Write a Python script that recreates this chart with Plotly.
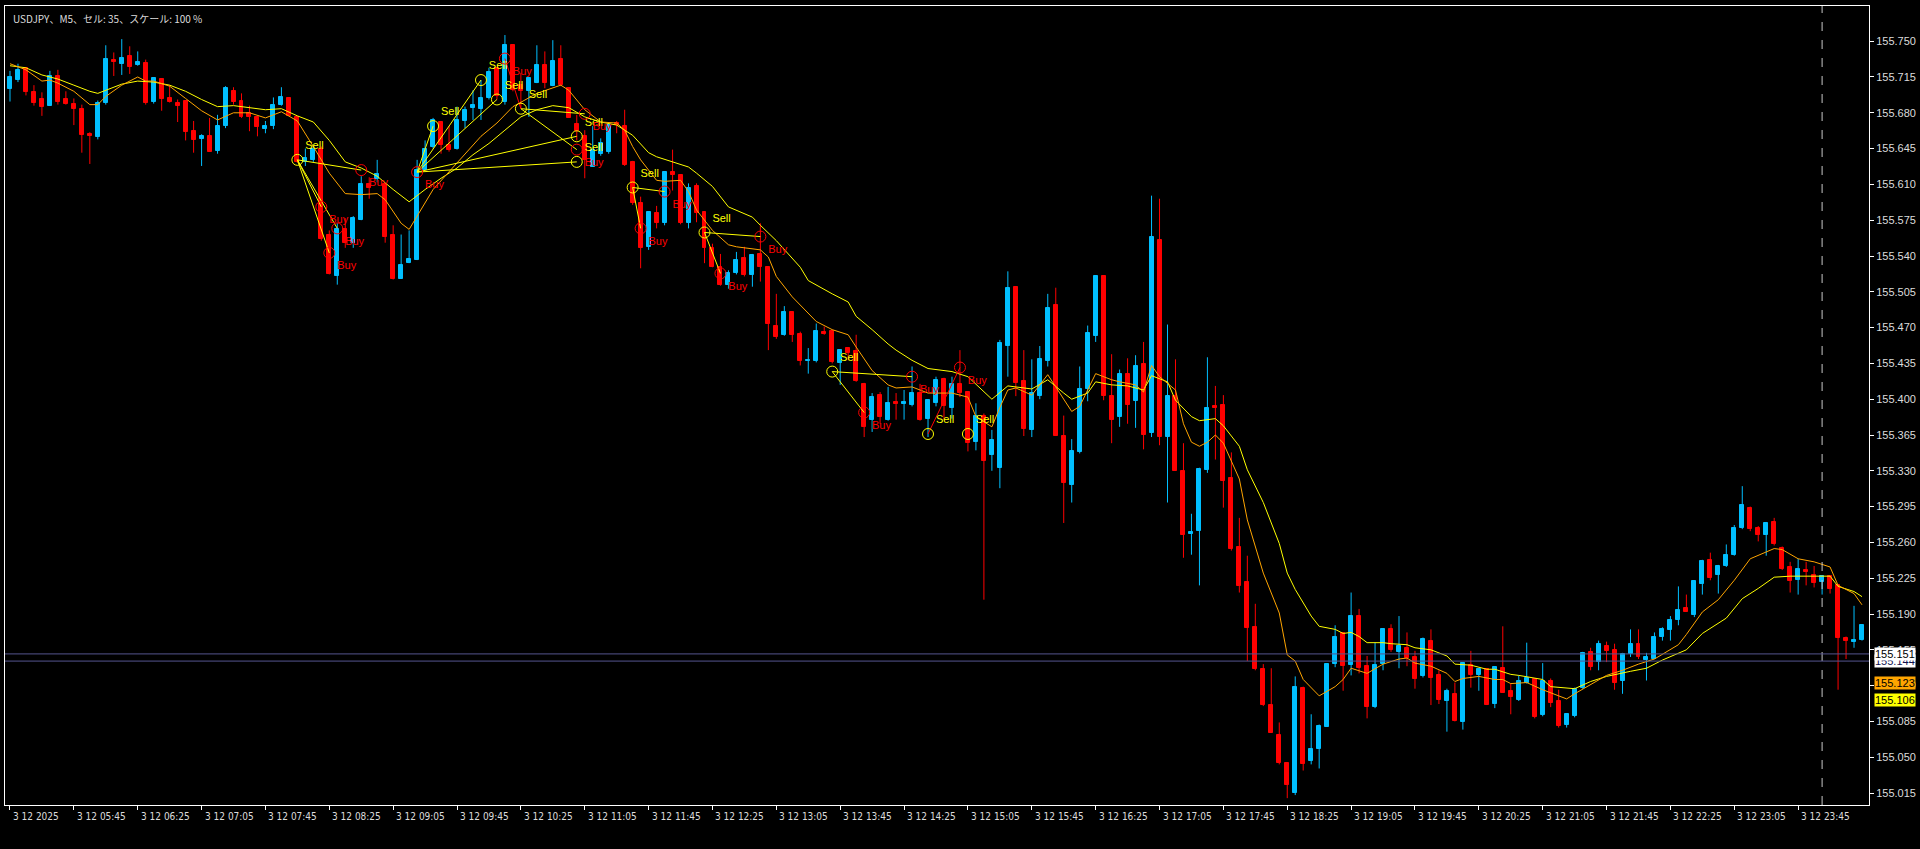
import plotly.graph_objects as go

# ---------------- data ----------------
candle_idx = list(range(233))  # M5 bars from 3.12 05:05 to 3.13 00:25

opens = [
    155.703, 155.712, 155.724, 155.700, 155.693, 155.687, 155.716, 155.693, 155.689, 155.684,
    155.659, 155.656, 155.690, 155.732, 155.728, 155.736, 155.727, 155.729, 155.691, 155.713,
    155.694, 155.690, 155.692, 155.662, 155.654, 155.657, 155.643, 155.667, 155.701, 155.692,
    155.680, 155.676, 155.664, 155.667, 155.688, 155.694, 155.676, 155.632, 155.634, 155.645,
    155.561, 155.520, 155.566, 155.553, 155.575, 155.610, 155.615, 155.610, 155.561, 155.518,
    155.533, 155.536, 155.624, 155.647, 155.671, 155.649, 155.645, 155.672, 155.685, 155.684,
    155.694, 155.724, 155.691, 155.746, 155.707, 155.701, 155.709, 155.727, 155.706, 155.733,
    155.704, 155.669, 155.657, 155.627, 155.640, 155.642, 155.670, 155.667, 155.632, 155.592,
    155.549, 155.582, 155.572, 155.622, 155.619, 155.572, 155.608, 155.583, 155.548, 155.529,
    155.512, 155.523, 155.538, 155.521, 155.542, 155.529, 155.472, 155.463, 155.485, 155.464,
    155.437, 155.437, 155.466, 155.467, 155.435, 155.450, 155.447, 155.415, 155.380, 155.404,
    155.380, 155.397, 155.395, 155.394, 155.406, 155.381, 155.396, 155.420, 155.391, 155.415,
    155.407, 155.358, 155.384, 155.345, 155.333, 155.452, 155.510, 155.418, 155.370, 155.403,
    155.437, 155.492, 155.364, 155.316, 155.348, 155.410, 155.462, 155.520, 155.403, 155.383,
    155.425, 155.398, 155.434, 155.367, 155.556, 155.363, 155.403, 155.330, 155.268, 155.271,
    155.331, 155.393, 155.394, 155.323, 155.256, 155.221, 155.177, 155.136, 155.101, 155.072,
    155.044, 155.015, 155.118, 155.046, 155.058, 155.080, 155.141, 155.171, 155.140, 155.188,
    155.139, 155.099, 155.141, 155.175, 155.153, 155.157, 155.148, 155.129, 155.164, 155.130,
    155.105, 155.112, 155.084, 155.140, 155.130, 155.136, 155.102, 155.137, 155.115, 155.106,
    155.123, 155.126, 155.091, 155.125, 155.105, 155.082, 155.090, 155.118, 155.153, 155.143,
    155.159, 155.155, 155.125, 155.151, 155.161, 155.145, 155.146, 155.168, 155.174, 155.184,
    155.196, 155.189, 155.219, 155.243, 155.228, 155.237, 155.248, 155.274, 155.294, 155.274,
    155.267, 155.280, 155.255, 155.236, 155.223, 155.233, 155.228, 155.221, 155.227, 155.218,
    155.167, 155.163, 155.165,
]

highs = [
    155.721, 155.728, 155.724, 155.707, 155.700, 155.721, 155.722, 155.701, 155.694, 155.688,
    155.661, 155.692, 155.746, 155.739, 155.752, 155.745, 155.740, 155.732, 155.714, 155.713,
    155.707, 155.693, 155.692, 155.672, 155.659, 155.675, 155.678, 155.706, 155.705, 155.699,
    155.687, 155.676, 155.672, 155.695, 155.705, 155.694, 155.677, 155.645, 155.649, 155.647,
    155.565, 155.572, 155.577, 155.579, 155.618, 155.617, 155.634, 155.611, 155.570, 155.561,
    155.565, 155.634, 155.653, 155.675, 155.672, 155.667, 155.686, 155.686, 155.702, 155.712,
    155.724, 155.724, 155.756, 155.746, 155.719, 155.715, 155.746, 155.740, 155.751, 155.746,
    155.704, 155.678, 155.663, 155.667, 155.655, 155.669, 155.672, 155.683, 155.633, 155.598,
    155.584, 155.589, 155.623, 155.644, 155.620, 155.611, 155.611, 155.584, 155.552, 155.542,
    155.526, 155.544, 155.549, 155.542, 155.572, 155.530, 155.503, 155.491, 155.486, 155.466,
    155.450, 155.474, 155.471, 155.468, 155.449, 155.451, 155.463, 155.416, 155.406, 155.407,
    155.412, 155.406, 155.409, 155.432, 155.415, 155.400, 155.422, 155.421, 155.422, 155.448,
    155.408, 155.396, 155.386, 155.370, 155.458, 155.525, 155.510, 155.448, 155.439, 155.452,
    155.503, 155.509, 155.384, 155.361, 155.432, 155.472, 155.521, 155.521, 155.444, 155.429,
    155.440, 155.443, 155.456, 155.599, 155.596, 155.473, 155.439, 155.357, 155.288, 155.333,
    155.441, 155.413, 155.404, 155.348, 155.284, 155.247, 155.200, 155.141, 155.137, 155.084,
    155.045, 155.129, 155.119, 155.092, 155.082, 155.142, 155.179, 155.172, 155.211, 155.195,
    155.149, 155.162, 155.176, 155.180, 155.188, 155.172, 155.154, 155.167, 155.175, 155.135,
    155.117, 155.123, 155.142, 155.154, 155.137, 155.137, 155.139, 155.178, 155.122, 155.130,
    155.162, 155.127, 155.142, 155.127, 155.116, 155.093, 155.118, 155.153, 155.157, 155.164,
    155.163, 155.161, 155.152, 155.175, 155.175, 155.152, 155.172, 155.177, 155.188, 155.217,
    155.209, 155.223, 155.243, 155.250, 155.238, 155.258, 155.277, 155.315, 155.295, 155.276,
    155.280, 155.284, 155.256, 155.241, 155.244, 155.241, 155.237, 155.227, 155.228, 155.219,
    155.168, 155.198, 155.179,
]

lows = [
    155.691, 155.710, 155.697, 155.687, 155.677, 155.687, 155.688, 155.688, 155.668, 155.641,
    155.630, 155.654, 155.688, 155.716, 155.717, 155.718, 155.726, 155.688, 155.689, 155.682,
    155.690, 155.671, 155.653, 155.641, 155.628, 155.642, 155.640, 155.665, 155.688, 155.675,
    155.662, 155.657, 155.660, 155.664, 155.687, 155.677, 155.631, 155.628, 155.632, 155.555,
    155.522, 155.512, 155.548, 155.548, 155.575, 155.596, 155.612, 155.553, 155.517, 155.518,
    155.533, 155.536, 155.624, 155.645, 155.640, 155.642, 155.644, 155.665, 155.673, 155.673,
    155.693, 155.693, 155.688, 155.701, 155.684, 155.676, 155.709, 155.704, 155.706, 155.706,
    155.675, 155.653, 155.616, 155.627, 155.638, 155.640, 155.660, 155.628, 155.590, 155.528,
    155.546, 155.567, 155.570, 155.604, 155.571, 155.567, 155.573, 155.533, 155.529, 155.511,
    155.508, 155.522, 155.520, 155.510, 155.515, 155.448, 155.459, 155.462, 155.456, 155.433,
    155.425, 155.436, 155.463, 155.435, 155.414, 155.438, 155.417, 155.363, 155.368, 155.376,
    155.379, 155.380, 155.380, 155.393, 155.379, 155.363, 155.393, 155.380, 155.381, 155.402,
    155.349, 155.350, 155.204, 155.330, 155.313, 155.422, 155.403, 155.364, 155.363, 155.400,
    155.432, 155.364, 155.279, 155.299, 155.347, 155.398, 155.456, 155.399, 155.357, 155.373,
    155.376, 155.372, 155.351, 155.363, 155.355, 155.299, 155.330, 155.245, 155.248, 155.218,
    155.328, 155.341, 155.294, 155.252, 155.211, 155.144, 155.135, 155.100, 155.074, 155.043,
    155.010, 155.013, 155.037, 155.043, 155.039, 155.080, 155.138, 155.115, 155.130, 155.132,
    155.088, 155.098, 155.135, 155.153, 155.137, 155.139, 155.117, 155.128, 155.101, 155.102,
    155.075, 155.085, 155.077, 155.118, 155.115, 155.101, 155.098, 155.113, 155.092, 155.105,
    155.122, 155.088, 155.090, 155.099, 155.079, 155.079, 155.089, 155.117, 155.135, 155.135,
    155.143, 155.116, 155.112, 155.148, 155.146, 155.125, 155.146, 155.164, 155.164, 155.179,
    155.192, 155.187, 155.209, 155.223, 155.210, 155.236, 155.247, 155.273, 155.271, 155.261,
    155.247, 155.257, 155.233, 155.211, 155.209, 155.218, 155.216, 155.209, 155.210, 155.116,
    155.146, 155.157, 155.164,
]

closes = [
    155.715, 155.722, 155.700, 155.690, 155.686, 155.716, 155.691, 155.689, 155.684, 155.658,
    155.657, 155.690, 155.733, 155.730, 155.734, 155.725, 155.730, 155.690, 155.714, 155.693,
    155.691, 155.687, 155.661, 155.653, 155.657, 155.642, 155.667, 155.704, 155.691, 155.676,
    155.676, 155.666, 155.667, 155.688, 155.695, 155.677, 155.632, 155.636, 155.645, 155.557,
    155.522, 155.566, 155.553, 155.577, 155.610, 155.606, 155.620, 155.559, 155.518, 155.531,
    155.537, 155.624, 155.645, 155.673, 155.649, 155.644, 155.673, 155.683, 155.688, 155.694,
    155.720, 155.696, 155.746, 155.702, 155.701, 155.714, 155.727, 155.709, 155.731, 155.707,
    155.675, 155.662, 155.634, 155.644, 155.650, 155.668, 155.668, 155.629, 155.592, 155.548,
    155.583, 155.572, 155.622, 155.619, 155.572, 155.606, 155.582, 155.548, 155.529, 155.512,
    155.523, 155.536, 155.521, 155.541, 155.529, 155.474, 155.461, 155.485, 155.463, 155.437,
    155.438, 155.467, 155.464, 155.436, 155.448, 155.445, 155.418, 155.373, 155.402, 155.383,
    155.396, 155.395, 155.397, 155.406, 155.380, 155.399, 155.419, 155.393, 155.415, 155.406,
    155.357, 155.384, 155.340, 155.360, 155.455, 155.509, 155.416, 155.371, 155.406, 155.439,
    155.489, 155.364, 155.318, 155.349, 155.410, 155.465, 155.520, 155.403, 155.380, 155.425,
    155.394, 155.432, 155.365, 155.559, 155.363, 155.403, 155.330, 155.267, 155.270, 155.332,
    155.391, 155.391, 155.320, 155.254, 155.217, 155.176, 155.136, 155.101, 155.074, 155.044,
    155.023, 155.119, 155.043, 155.058, 155.081, 155.141, 155.168, 155.139, 155.188, 155.137,
    155.099, 155.140, 155.175, 155.155, 155.159, 155.147, 155.126, 155.166, 155.127, 155.106,
    155.115, 155.085, 155.142, 155.130, 155.136, 155.101, 155.138, 155.113, 155.109, 155.125,
    155.127, 155.089, 155.125, 155.103, 155.081, 155.092, 155.117, 155.152, 155.138, 155.161,
    155.154, 155.123, 155.151, 155.161, 155.148, 155.148, 155.168, 155.175, 155.184, 155.194,
    155.192, 155.222, 155.242, 155.225, 155.237, 155.248, 155.274, 155.297, 155.273, 155.267,
    155.279, 155.258, 155.234, 155.222, 155.234, 155.231, 155.220, 155.227, 155.214, 155.167,
    155.164, 155.165, 155.179,
]

# slow moving average (yellow)
slow_ma_idx = [0, 2, 4, 6, 8, 10, 11, 12, 14, 16, 18, 20, 22, 24, 26, 28, 30, 32, 34, 36,
               38, 40, 42, 44, 46, 48, 50, 52, 54, 56, 58, 60, 62, 64, 66, 68, 70, 72, 74, 76,
               78, 80, 81, 83, 85, 86, 88, 90, 93, 94, 96, 99, 100, 103, 105, 106, 108, 110, 111, 113,
               115, 118, 120, 123, 125, 128, 130, 132, 133, 135, 136, 138, 140, 142, 143, 145, 146, 148, 149, 151,
               152, 154, 155, 157, 159, 160, 161, 163, 164, 166, 167, 168, 169, 170, 172, 173, 175, 176, 178, 180,
               181, 183, 185, 186, 188, 189, 192, 193, 196, 198, 200, 203, 205, 207, 210, 212, 215, 217, 219, 221,
               223, 226, 228, 229, 231, 232]
slow_ma_val = [155.726, 155.724, 155.717, 155.713, 155.707, 155.701, 155.699, 155.702, 155.708, 155.711,
               155.710, 155.707, 155.701, 155.693, 155.686, 155.687, 155.685, 155.683, 155.684, 155.677,
               155.671, 155.653, 155.632, 155.626, 155.618, 155.605, 155.593, 155.605, 155.616, 155.626,
               155.639, 155.650, 155.663, 155.676, 155.683, 155.687, 155.685, 155.676, 155.671, 155.668,
               155.658, 155.641, 155.637, 155.632, 155.627, 155.621, 155.608, 155.588, 155.578, 155.570,
               155.555, 155.529, 155.516, 155.503, 155.495, 155.481, 155.468, 155.454, 155.448, 155.438,
               155.430, 155.427, 155.422, 155.400, 155.413, 155.410, 155.419, 155.406, 155.400, 155.406,
               155.417, 155.414, 155.413, 155.409, 155.423, 155.417, 155.399, 155.383, 155.379, 155.381,
               155.374, 155.354, 155.331, 155.299, 155.259, 155.230, 155.214, 155.188, 155.178, 155.175,
               155.171, 155.172, 155.168, 155.162, 155.162, 155.161, 155.160, 155.157, 155.155, 155.149,
               155.141, 155.140, 155.136, 155.136, 155.131, 155.130, 155.126, 155.119, 155.117, 155.124,
               155.129, 155.134, 155.137, 155.145, 155.155, 155.171, 155.186, 155.205, 155.215, 155.226,
               155.227, 155.227, 155.227, 155.217, 155.212, 155.207]

# fast moving average (orange)
fast_ma_idx = [0, 2, 4, 5, 6, 8, 10, 11, 12, 14, 16, 17, 18, 20, 22, 24, 26, 28, 30, 32,
               34, 36, 38, 40, 42, 44, 46, 47, 49, 50, 51, 53, 56, 59, 61, 63, 66, 69, 70, 72,
               74, 76, 77, 78, 79, 81, 82, 84, 85, 86, 88, 90, 91, 94, 95, 96, 98, 100, 101, 103,
               105, 106, 108, 110, 111, 113, 115, 116, 118, 120, 121, 123, 124, 125, 126, 128, 130, 131, 133, 134,
               136, 138, 139, 141, 142, 143, 144, 146, 147, 148, 149, 150, 151, 152, 154, 155, 157, 159, 160, 161,
               162, 164, 166, 167, 168, 170, 172, 174, 175, 176, 178, 180, 181, 182, 184, 186, 187, 188, 190, 192,
               195, 196, 198, 200, 202, 204, 206, 209, 210, 212, 214, 216, 218, 221, 222, 224, 226, 228, 229, 231,
               232]
fast_ma_val = [155.728, 155.722, 155.711, 155.712, 155.709, 155.701, 155.688, 155.688, 155.696, 155.707,
               155.715, 155.711, 155.711, 155.706, 155.694, 155.682, 155.673, 155.680, 155.680, 155.675,
               155.681, 155.672, 155.647, 155.621, 155.601, 155.600, 155.601, 155.595, 155.572, 155.566,
               155.579, 155.605, 155.631, 155.657, 155.670, 155.686, 155.699, 155.707, 155.702, 155.683,
               155.671, 155.670, 155.663, 155.647, 155.634, 155.614, 155.613, 155.614, 155.603, 155.585,
               155.565, 155.551, 155.549, 155.546, 155.539, 155.520, 155.500, 155.484, 155.476, 155.468,
               155.463, 155.451, 155.428, 155.414, 155.411, 155.412, 155.406, 155.406, 155.406, 155.402,
               155.383, 155.373, 155.392, 155.409, 155.411, 155.404, 155.424, 155.412, 155.388, 155.393,
               155.425, 155.419, 155.417, 155.414, 155.407, 155.433, 155.422, 155.409, 155.376, 155.358,
               155.354, 155.358, 155.365, 155.357, 155.322, 155.282, 155.230, 155.191, 155.150, 155.144,
               155.126, 155.110, 155.119, 155.126, 155.137, 155.132, 155.141, 155.146, 155.147, 155.142,
               155.139, 155.132, 155.124, 155.127, 155.129, 155.126, 155.126, 155.122, 155.123, 155.116,
               155.107, 155.112, 155.121, 155.130, 155.135, 155.141, 155.146, 155.160, 155.170, 155.192,
               155.204, 155.223, 155.244, 155.254, 155.253, 155.244, 155.241, 155.236, 155.218, 155.210,
               155.199]

# trade-signal markers
sell_idx = [36, 53, 59, 61, 64, 71, 71, 78, 87, 103, 115, 120]
sell_price = [155.634, 155.667, 155.712, 155.693, 155.684, 155.657, 155.632, 155.607, 155.563, 155.427, 155.366, 155.366]
buy_idx = [39, 40, 41, 44, 51, 62, 71, 72, 79, 82, 89, 94, 107, 113, 119]
buy_price = [155.588, 155.543, 155.567, 155.624, 155.622, 155.733, 155.644, 155.679, 155.567, 155.603, 155.523, 155.559, 155.387, 155.422, 155.431]

# signal connection segments: (from idx, from price, to idx, to price)
link_from_idx = [36, 36, 36, 36, 51, 51, 51, 51, 51, 64, 64, 78, 78, 87, 87, 103, 103]
link_from_price = [155.634, 155.634, 155.634, 155.634, 155.622, 155.622, 155.622, 155.622, 155.622,
                   155.684, 155.684, 155.607, 155.607, 155.563, 155.563, 155.427, 155.427]
link_to_idx = [40, 39, 41, 44, 53, 59, 61, 71, 71, 72, 71, 82, 79, 94, 89, 113, 107]
link_to_price = [155.543, 155.588, 155.567, 155.624, 155.667, 155.712, 155.693, 155.657, 155.632,
                 155.679, 155.644, 155.603, 155.567, 155.559, 155.523, 155.422, 155.387]
red_link_from_idx = [115, 62]
red_link_from_price = [155.366, 155.733]
red_link_to_idx = [119, 64]
red_link_to_price = [155.431, 155.684]

# axis ticks
price_ticks = [155.750, 155.715, 155.680, 155.645, 155.610, 155.575, 155.540, 155.505, 155.470, 155.435,
               155.400, 155.365, 155.330, 155.295, 155.260, 155.225, 155.190, 155.155, 155.120, 155.085,
               155.050, 155.015]
time_tick_idx = [0, 8, 16, 24, 32, 40, 48, 56, 64, 72, 80, 88, 96, 104, 112, 120, 128, 136, 144, 152,
                 160, 168, 176, 184, 192, 200, 208, 216, 224]
time_labels = ["3 12 2025", "3 12 05:45", "3 12 06:25", "3 12 07:05", "3 12 07:45", "3 12 08:25",
               "3 12 09:05", "3 12 09:45", "3 12 10:25", "3 12 11:05", "3 12 11:45", "3 12 12:25",
               "3 12 13:05", "3 12 13:45", "3 12 14:25", "3 12 15:05", "3 12 15:45", "3 12 16:25",
               "3 12 17:05", "3 12 17:45", "3 12 18:25", "3 12 19:05", "3 12 19:45", "3 12 20:25",
               "3 12 21:05", "3 12 21:45", "3 12 22:25", "3 12 23:05", "3 12 23:45"]
day_separator_idx = 227
bid_price = 155.151
ask_price = 155.144
orange_label_price = 155.123
yellow_label_price = 155.106
title_text = "USDJPY、M5、セル: 35、スケール: 100 %"

# ---------------- figure ----------------
BULL = "#00BFFF"
BEAR = "#FF0000"
YEL = "#FFFF00"
ORG = "#FFA500"

bull = [i for i in candle_idx if closes[i] >= opens[i]]
bear = [i for i in candle_idx if closes[i] < opens[i]]


def wicks(sel):
    xs, ys = [], []
    for i in sel:
        xs += [i, i, None]
        ys += [lows[i], highs[i], None]
    return xs, ys


def segments(fx, fy, tx, ty):
    xs, ys = [], []
    for a, b, c, d in zip(fx, fy, tx, ty):
        xs += [a, c, None]
        ys += [b, d, None]
    return xs, ys


fig = go.Figure()

for sel, col in ((bull, BULL), (bear, BEAR)):
    wx, wy = wicks(sel)
    fig.add_trace(go.Scatter(x=wx, y=wy, mode="lines", line=dict(color=col, width=1),
                             hoverinfo="skip"))
fig.add_trace(go.Bar(x=bull, y=[closes[i] - opens[i] for i in bull], base=[opens[i] for i in bull],
                     width=0.5, marker=dict(color=BULL, line=dict(color=BULL, width=1))))
fig.add_trace(go.Bar(x=bear, y=[opens[i] - closes[i] for i in bear], base=[closes[i] for i in bear],
                     width=0.5, marker=dict(color=BEAR, line=dict(color=BEAR, width=1))))

fig.add_trace(go.Scatter(x=slow_ma_idx, y=slow_ma_val, mode="lines", line=dict(color=YEL, width=1)))
fig.add_trace(go.Scatter(x=fast_ma_idx, y=fast_ma_val, mode="lines", line=dict(color=ORG, width=1)))

lx, ly = segments(link_from_idx, link_from_price, link_to_idx, link_to_price)
fig.add_trace(go.Scatter(x=lx, y=ly, mode="lines", line=dict(color=YEL, width=1)))
rx, ry = segments(red_link_from_idx, red_link_from_price, red_link_to_idx, red_link_to_price)
fig.add_trace(go.Scatter(x=rx, y=ry, mode="lines", line=dict(color=BEAR, width=1)))

fig.add_trace(go.Scatter(x=sell_idx, y=sell_price, mode="markers+text",
                         marker=dict(symbol="circle-open", size=11, color=YEL, line=dict(width=1)),
                         text=["Sell"] * len(sell_idx), textposition="top right",
                         textfont=dict(color=YEL, size=11, family="Liberation Sans, Arial")))
fig.add_trace(go.Scatter(x=buy_idx, y=buy_price, mode="markers+text",
                         marker=dict(symbol="circle-open", size=11, color=BEAR, line=dict(width=1)),
                         text=["Buy"] * len(buy_idx), textposition="bottom right",
                         textfont=dict(color=BEAR, size=11, family="Liberation Sans, Arial")))

shapes = [
    dict(type="line", xref="x", yref="paper", x0=day_separator_idx, x1=day_separator_idx, y0=0, y1=1,
         line=dict(color="#C8C8C8", width=1, dash="dash")),
    dict(type="line", xref="paper", yref="y", x0=0, x1=1, y0=bid_price, y1=bid_price,
         line=dict(color="#55558F", width=1)),
    dict(type="line", xref="paper", yref="y", x0=0, x1=1, y0=ask_price, y1=ask_price,
         line=dict(color="#55558F", width=1)),
]

annotations = [
    dict(xref="paper", yref="paper", x=0, y=1, xanchor="left", yanchor="top", xshift=6, yshift=-3,
         text=title_text, showarrow=False,
         font=dict(color="#DCDCDC", size=10, family="Noto Sans CJK JP")),
]
for ti, lab in zip(time_tick_idx, time_labels):
    annotations.append(dict(xref="x", yref="paper", x=ti, y=0, xanchor="left", yanchor="top",
                            xshift=1, yshift=-4, text=lab, showarrow=False,
                            font=dict(color="#DCDCDC", size=10,
                                      family="Liberation Sans Narrow, Arial Narrow, DejaVu Sans Condensed")))
for val, bg, fg in ((ask_price, "#FFFFFF", "#101050"), (bid_price, "#FFFFFF", "#000000"),
                    (orange_label_price, ORG, "#000000"), (yellow_label_price, YEL, "#000000")):
    annotations.append(dict(xref="paper", yref="y", x=1, y=val, xanchor="left", yanchor="middle",
                            xshift=5, text=f"{val:.3f}", showarrow=False, bgcolor=bg, borderpad=0,
                            font=dict(color=fg, size=11, family="Liberation Sans, Arial")))

fig.update_layout(
    width=1920, height=849,
    margin=dict(l=4, r=48, t=6, b=44),
    paper_bgcolor="black", plot_bgcolor="black",
    showlegend=False, barmode="overlay", bargap=0,
    shapes=shapes, annotations=annotations,
    xaxis=dict(range=[-0.625, 232.875], showgrid=False, zeroline=False, showline=True, mirror=True,
               linecolor="white", linewidth=1, ticks="outside", ticklen=4, tickcolor="white",
               tickvals=time_tick_idx, showticklabels=False, fixedrange=True),
    yaxis=dict(range=[155.0033, 155.7844], side="right", showgrid=False, zeroline=False,
               showline=True, mirror=True, linecolor="white", linewidth=1, ticks="outside",
               ticklen=4, tickcolor="white", tickvals=price_ticks,
               ticktext=[f"{v:.3f}" for v in price_ticks],
               tickfont=dict(color="#DCDCDC", size=11, family="Liberation Sans, Arial"),
               fixedrange=True),
)

fig.write_html("out.html", config={"displayModeBar": False},
               post_script="document.body.style.margin='0';document.body.style.overflow='hidden';")
